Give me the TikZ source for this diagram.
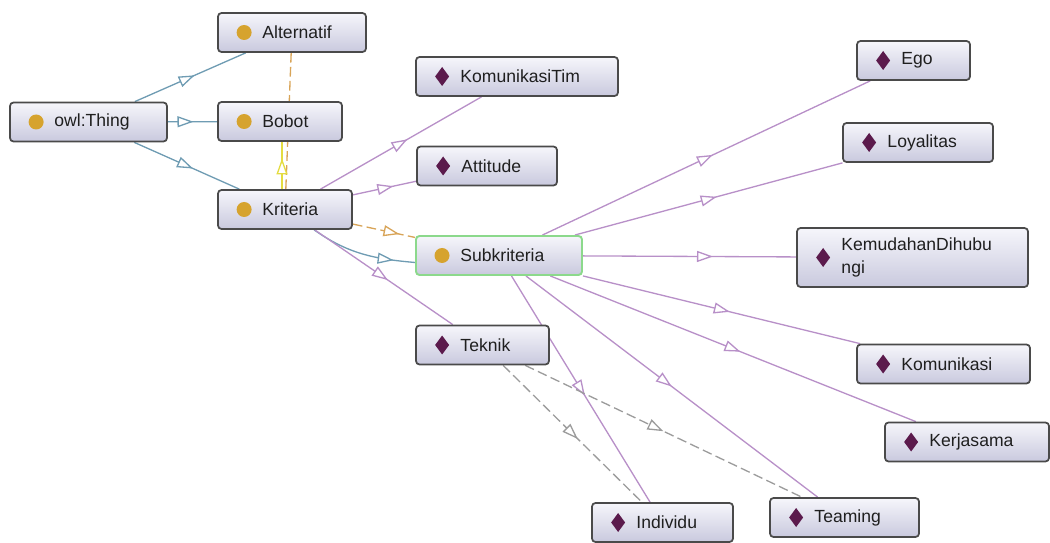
\documentclass[tikz,border=0pt]{standalone}
\usepackage{fontspec}
\setmainfont{Liberation Sans}
\usetikzlibrary{arrows.meta,decorations.markings,backgrounds}

\def\px{0.02cm}
\definecolor{boxline}{HTML}{4A4A4A}
\definecolor{boxtop}{HTML}{F6F6FB}
\definecolor{boxbot}{HTML}{C9C9DE}
\definecolor{subgreen}{HTML}{8CD98C}
\definecolor{dotcol}{HTML}{D6A32E}
\definecolor{diamcol}{HTML}{5B1A4C}
\definecolor{clsblue}{HTML}{6F9CB3}
\definecolor{indviolet}{HTML}{B890C8}
\definecolor{orangedash}{HTML}{D8A458}
\definecolor{yellowline}{HTML}{E4DC40}
\definecolor{greydash}{HTML}{9C9C9C}

\tikzset{
  ontobox/.style={rectangle, rounded corners=2pt, draw=boxline, line width=1pt,
    top color=boxtop, bottom color=boxbot, minimum height=39*\px, inner sep=0pt},
  ontolabel/.style={anchor=west, inner sep=0pt, align=left,
    font=\fontsize{10}{13}\selectfont, text=black!88},
  isa/.style={postaction={decorate, decoration={markings,
    mark=at position #1 with {\arrow{Triangle[length=0.32cm,width=0.22cm,fill=white]}}}}},
  clsedge/.style={draw=clsblue, line width=0.75pt},
  indedge/.style={draw=indviolet, line width=0.75pt},
  oredge/.style={draw=orangedash, line width=0.75pt, dash pattern=on 5.5pt off 2.5pt},
  yeledge/.style={draw=yellowline, line width=0.75pt},
  greyedge/.style={draw=greydash, line width=0.75pt, dash pattern=on 5.5pt off 2.5pt}
}

% class box: [extra](name)(x,y){width}{label}
\def\classnode[#1](#2)(#3,#4)#5#6{%
  \node[ontobox, minimum width=#5*\px, #1] (#2) at (#3,#4) {};
  \fill[dotcol] ([xshift=27*\px]#2.west) circle (0.15cm);
  \node[ontolabel] (#2-txt) at ([xshift=45*\px]#2.west) {#6};}
% individual box
\def\indivnode[#1](#2)(#3,#4)#5#6{%
  \node[ontobox, minimum width=#5*\px, #1] (#2) at (#3,#4) {};
  \fill[diamcol] ([xshift=27*\px]#2.west) ++(0,0.19cm) -- ++(0.14cm,-0.19cm)
    -- ++(-0.14cm,-0.19cm) -- ++(-0.14cm,0.19cm) -- cycle;
  \node[ontolabel] (#2-txt) at ([xshift=45*\px]#2.west) {#6};}

\begin{document}
\begin{tikzpicture}[x=\px, y=-\px]
  \useasboundingbox (0,0) rectangle (1050,543);

  %%%%% classes %%%%%
  \classnode[](owl)(88.5,122){157}{owl:Thing}
  \classnode[](alt)(292,32.5){148}{Alternatif}
  \classnode[](bobot)(280,121.5){124}{Bobot}
  \classnode[](krit)(285,209.5){134}{Kriteria}
  \classnode[draw=subgreen, line width=1.1pt](sub)(499,255.5){166}{Subkriteria}

  %%%%% individuals %%%%%
  \indivnode[](komtim)(517,76.5){202}{KomunikasiTim}
  \indivnode[](attitude)(487,166){140}{Attitude}
  \indivnode[](teknik)(482.5,345){133}{Teknik}
  \indivnode[](ego)(913.5,60.5){113}{Ego}
  \indivnode[](loyal)(918,142.5){150}{Loyalitas}
  \indivnode[minimum height=59*\px](kemud)(912.5,257.5){231}{KemudahanDihubu\\ngi}
  \indivnode[](komun)(943.5,364){173}{Komunikasi}
  \indivnode[](kerja)(967,442){164}{Kerjasama}
  \indivnode[](indiv)(662.5,522.5){141}{Individu}
  \indivnode[](team)(844.5,517.5){149}{Teaming}

  %%%%% edges %%%%%
  \begin{pgfonlayer}{background}
    \draw[clsedge, isa=0.54] (owl) -- (alt);
    \draw[clsedge, isa=0.52] (owl) -- (bobot);
    \draw[clsedge, isa=0.56] (owl) -- (krit);
    \draw[oredge] (alt) -- (krit);
    \draw[yeledge, isa=0.65] ([xshift=-3*\px]krit.north) -- ([xshift=2*\px]bobot.south);
    \draw[oredge, isa=0.75] (krit) -- (sub);
    \draw[clsedge, isa=0.8] (krit) to[out=-35, in=175] ([yshift=-7*\px]sub.west);

    \draw[indedge, isa=0.54] (krit) -- (komtim);
    \draw[indedge, isa=0.64] (krit) -- (attitude);
    \draw[indedge, isa=0.53] (krit) -- (teknik);

    \draw[indedge, isa=0.52] (sub) -- (ego);
    \draw[indedge, isa=0.53] (sub) -- (loyal);
    \draw[indedge, isa=0.61] (sub) -- (kemud);
    \draw[indedge, isa=0.53] (sub) -- (komun);
    \draw[indedge, isa=0.52] (sub) -- (kerja);
    \draw[indedge, isa=0.53] (sub) -- (indiv);
    \draw[indedge, isa=0.5] (sub) -- (team);

    \draw[greyedge, isa=0.54] (teknik) -- (indiv);
    \draw[greyedge, isa=0.5] (teknik) -- (team);
  \end{pgfonlayer}
\end{tikzpicture}
\end{document}
